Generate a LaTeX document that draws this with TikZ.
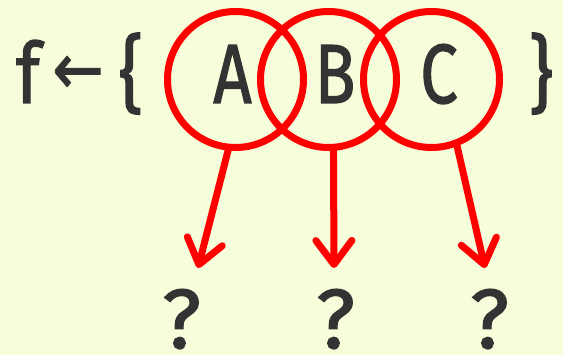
\documentclass[tikz,border=0pt]{standalone}
\usepackage{fontspec}
\setmainfont{Fira Sans}[FakeBold=1.6]
\newfontfamily\symfont{DejaVu Sans}[FakeBold=1.2]
\usetikzlibrary{arrows.meta}
\definecolor{bg}{HTML}{F5FDDA}
\definecolor{ink}{HTML}{333333}
\definecolor{rd}{HTML}{FF0000}
\begin{document}
\begin{tikzpicture}[x=1pt,y=-1pt,
  ring/.style={circle,draw=rd,line width=7pt,minimum size=136pt,inner sep=0pt},
  glyph/.style={text=ink,inner sep=0pt,anchor=base,font=\fontsize{84}{84}\selectfont},
  arr/.style={draw=rd,line width=7pt,line cap=round,line join=round,
    -{Straight Barb[length=24pt,width=36pt,line cap=round,line join=round]}}]
\fill[bg] (0,0) rectangle (563,355);
\useasboundingbox (0,0) rectangle (563,355);
\node[ring] (cA) at (235.5,79.5) {};
\node[ring] (cB) at (328.5,79.5) {};
\node[ring] (cC) at (431.5,79.5) {};
\node[glyph] (lA) at (232.5,103) {\scalebox{0.8}[1]{A}};
\node[glyph] (lB) at (335,103) {\scalebox{0.8}[1]{B}};
\node[glyph] (lC) at (439,103) {\scalebox{0.8}[1]{C}};
\node[glyph] (f) at (28,103) {\scalebox{0.85}[1]{f}};
\node[text=ink,inner sep=0pt,font=\symfont\fontsize{72}{72}\selectfont] (arrow) at (78,75) {\scalebox{0.85}[1]{←}};
\node[glyph] (lb) at (131,103) {\scalebox{0.9}[1]{\{}};
\node[glyph] (rb) at (541,103) {\scalebox{0.9}[1]{\}}};
\coordinate (tA) at (198,268);
\coordinate (tB) at (334,268);
\coordinate (tC) at (485,268);
\node[glyph] (qA) at (181.5,348) {?};
\node[glyph] (qB) at (335.5,348) {?};
\node[glyph] (qC) at (489.5,348) {?};
\draw[arr] (cA.264) -- (tA);
\draw[arr] (cB.274) -- (tB);
\draw[arr] (cC.291) -- (tC);
\end{tikzpicture}
\end{document}
